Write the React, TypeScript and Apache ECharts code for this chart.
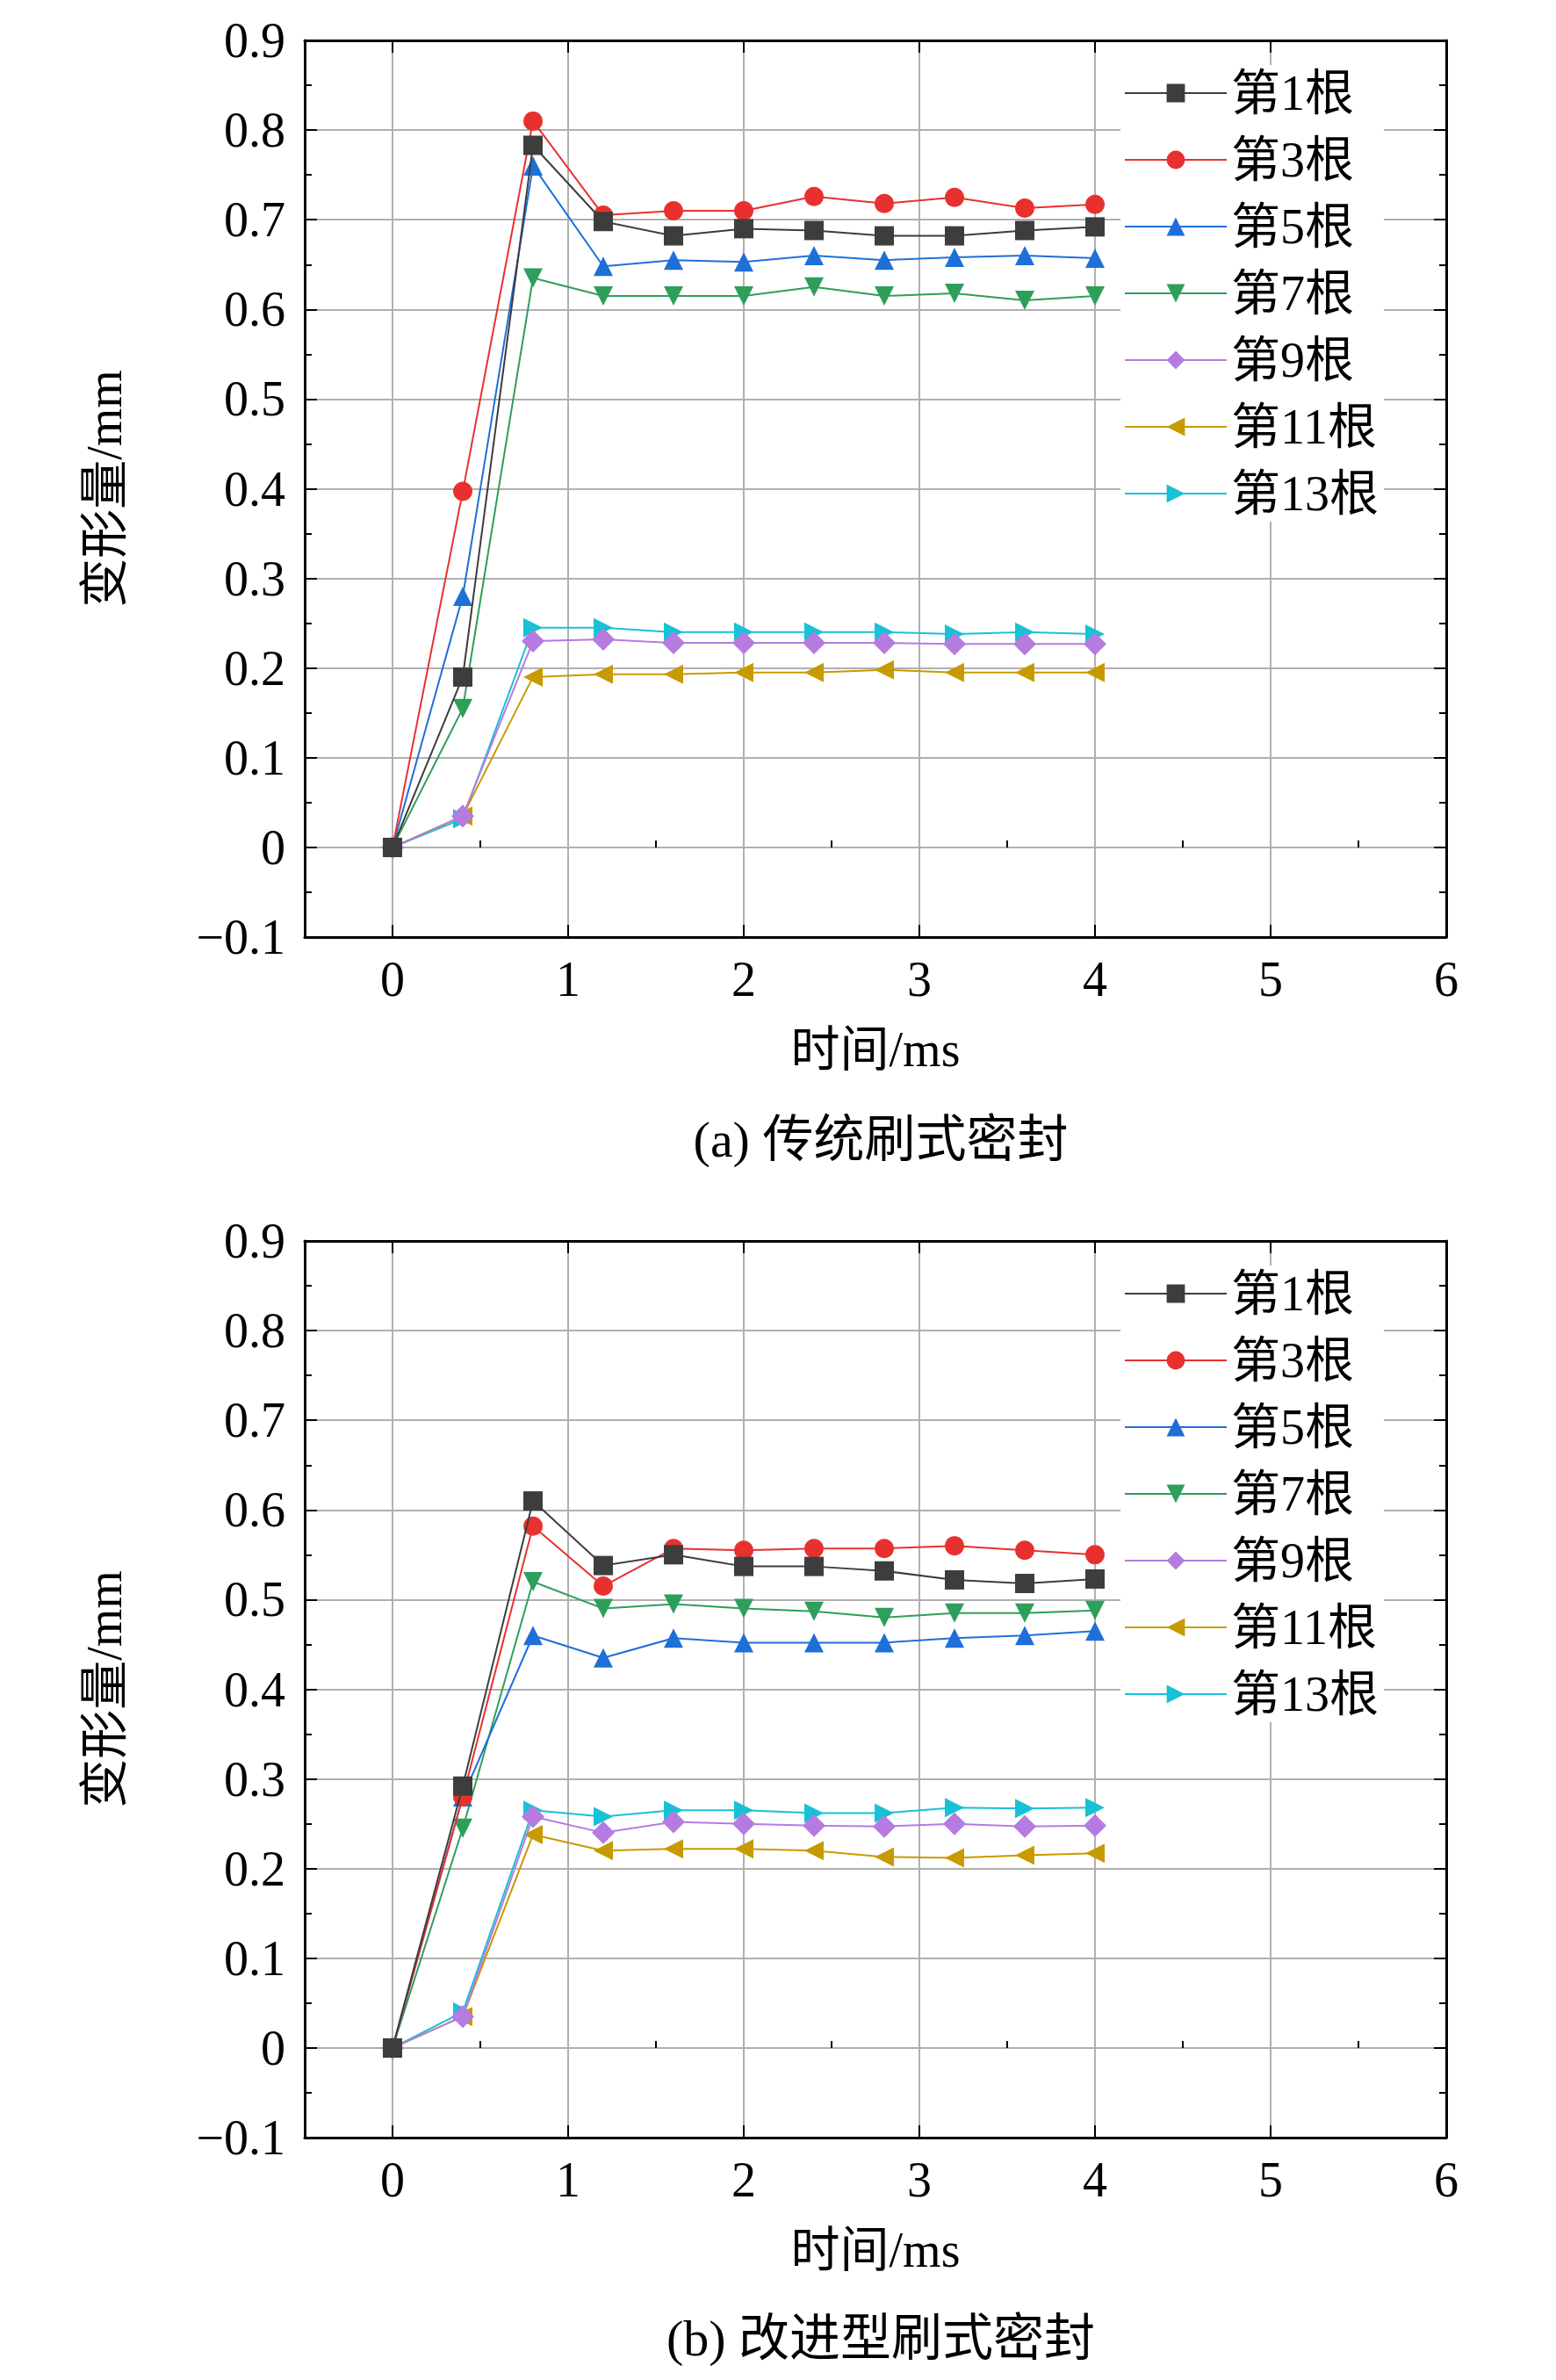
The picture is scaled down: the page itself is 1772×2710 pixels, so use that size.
import React, { useEffect, useRef } from "react";
import * as echarts from "echarts";

const times = [0, 0.4, 0.8, 1.2, 1.6, 2.0, 2.4, 2.8, 3.2, 3.6, 4.0];
const seriesNames = ["第1根", "第3根", "第5根", "第7根", "第9根", "第11根", "第13根"];
const colors = ["#3d3d3d", "#e8312f", "#1f6fd8", "#2e9e5b", "#b57be0", "#c79a00", "#17c2d6"];
const symbols = [
  "rect",
  "circle",
  "triangle",
  "path://M0,0 L10,0 L5,9 Z",
  "diamond",
  "path://M0,5 L9,0 L9,10 Z",
  "path://M0,0 L9,5 L0,10 Z",
];
const xTicks = [0, 1, 2, 3, 4, 5, 6];
const xMinor = [-0.5, 0.5, 1.5, 2.5, 3.5, 4.5, 5.5];

const dataA = [
  [0, 0.19, 0.783, 0.698, 0.682, 0.69, 0.688, 0.682, 0.682, 0.688, 0.692],
  [0, 0.397, 0.81, 0.705, 0.71, 0.71, 0.726, 0.718, 0.725, 0.713, 0.717],
  [0, 0.28, 0.76, 0.648, 0.655, 0.653, 0.66, 0.655, 0.658, 0.66, 0.657],
  [0, 0.155, 0.635, 0.615, 0.615, 0.615, 0.625, 0.615, 0.618, 0.61, 0.615],
  [0, 0.035, 0.23, 0.232, 0.228, 0.228, 0.228, 0.228, 0.227, 0.227, 0.227],
  [0, 0.035, 0.19, 0.193, 0.193, 0.195, 0.195, 0.198, 0.195, 0.195, 0.195],
  [0, 0.032, 0.245, 0.245, 0.24, 0.24, 0.24, 0.24, 0.238, 0.24, 0.238],
];
const dataB = [
  [0, 0.292, 0.61, 0.538, 0.55, 0.537, 0.537, 0.532, 0.522, 0.518, 0.523],
  [0, 0.28, 0.582, 0.515, 0.557, 0.555, 0.557, 0.557, 0.56, 0.555, 0.55],
  [0, 0.28, 0.46, 0.435, 0.457, 0.452, 0.452, 0.452, 0.457, 0.46, 0.465],
  [0, 0.245, 0.52, 0.49, 0.495, 0.49, 0.487, 0.48, 0.485, 0.485, 0.488],
  [0, 0.035, 0.258, 0.24, 0.252, 0.25, 0.248, 0.247, 0.25, 0.247, 0.248],
  [0, 0.035, 0.238, 0.22, 0.222, 0.222, 0.22, 0.213, 0.212, 0.215, 0.217],
  [0, 0.04, 0.265, 0.258, 0.265, 0.265, 0.262, 0.262, 0.268, 0.267, 0.268],
];

const FONT = "'Liberation Serif', 'Noto Sans CJK SC', serif";
const GRID_TOPS = [38, 1405];
const GRID_H = 1021;

const App: React.FC = () => {
  const ref = useRef<HTMLDivElement>(null);

  useEffect(() => {
    if (!ref.current) return;
    const chart = echarts.init(ref.current, undefined, { renderer: "svg" });

    const grids = GRID_TOPS.map((top) => ({ left: 339, width: 1300, top, height: GRID_H }));

    const xAxes: any[] = [];
    const yAxes: any[] = [];
    [0, 1].forEach((i) => {
      xAxes.push({
        type: "value", gridIndex: i, min: -0.5, max: 6, position: "bottom",
        name: "时间/ms", nameLocation: "middle", nameGap: 100,
        nameTextStyle: { fontFamily: FONT, fontSize: 56, color: "#000" },
        axisLine: { onZero: false, lineStyle: { color: "#000", width: 3 } },
        axisTick: { inside: true, length: 14, customValues: xTicks, lineStyle: { color: "#000", width: 2 } },
        axisLabel: { customValues: xTicks, fontFamily: FONT, fontSize: 56, color: "#000", margin: 20 },
        splitLine: { show: true, lineStyle: { color: "#b0b0b0", width: 2 } },
      });
      xAxes.push({
        type: "value", gridIndex: i, min: -0.5, max: 6, position: "top",
        axisLine: { onZero: false, lineStyle: { color: "#000", width: 3 } },
        axisTick: { inside: true, length: 14, customValues: xTicks, lineStyle: { color: "#000", width: 2 } },
        axisLabel: { show: false },
        splitLine: { show: false },
      });
      // minor ticks at half steps on x
      xAxes.push({
        type: "value", gridIndex: i, min: -0.5, max: 6, position: "bottom",
        axisLine: { show: false },
        axisTick: { inside: true, length: 8, customValues: xMinor, lineStyle: { color: "#000", width: 2 } },
        axisLabel: { show: false },
        splitLine: { show: false },
      });
      yAxes.push({
        type: "value", gridIndex: i, min: -0.1, max: 0.9, interval: 0.1, position: "left",
        name: "变形量/mm", nameLocation: "middle", nameGap: 200,
        nameTextStyle: { fontFamily: FONT, fontSize: 56, color: "#000" },
        axisLine: { onZero: false, lineStyle: { color: "#000", width: 3 } },
        axisTick: { inside: true, length: 14, lineStyle: { color: "#000", width: 2 } },
        minorTick: { show: true, splitNumber: 2, length: 8, lineStyle: { color: "#000", width: 2 } },
        axisLabel: {
          fontFamily: FONT, fontSize: 56, color: "#000", margin: 22,
          formatter: (v: number) => {
            const r = Math.round(v * 10) / 10;
            return r === 0 ? "0" : r < 0 ? "\u2212" + Math.abs(r).toFixed(1) : r.toFixed(1);
          },
        },
        splitLine: { show: true, lineStyle: { color: "#b0b0b0", width: 2 } },
      });
      yAxes.push({
        type: "value", gridIndex: i, min: -0.1, max: 0.9, interval: 0.1, position: "right",
        axisLine: { onZero: false, lineStyle: { color: "#000", width: 3 } },
        axisTick: { inside: true, length: 14, lineStyle: { color: "#000", width: 2 } },
        minorTick: { show: true, splitNumber: 2, length: 8, lineStyle: { color: "#000", width: 2 } },
        axisLabel: { show: false },
        splitLine: { show: false },
      });
    });

    const series: any[] = [];
    [dataA, dataB].forEach((set, gi) => {
      set.forEach((vals, si) => {
        series.push({
          name: seriesNames[si], type: "line",
          xAxisIndex: gi * 3, yAxisIndex: gi * 2,
          symbol: symbols[si], symbolSize: si === 4 ? 26 : 22,
          showAllSymbol: true,
          itemStyle: { color: colors[si] },
          lineStyle: { color: colors[si], width: 2 },
          data: times.map((t, k) => [t, vals[k]]),
          z: 10 - si,
        });
      });
    });

    const legends = GRID_TOPS.map((top) => ({
      orient: "vertical", left: 1268, top: top + 28,
      itemWidth: 116, itemHeight: 26, itemGap: 20,
      backgroundColor: "#fff", padding: [4, 6, 4, 4],
      textStyle: { fontFamily: FONT, fontSize: 56, color: "#000" },
      data: seriesNames,
    }));

    chart.setOption({
      animation: false,
      backgroundColor: "#fff",
      grid: grids,
      xAxis: xAxes,
      yAxis: yAxes,
      legend: legends,
      series,
      title: [
        { text: "(a) 传统刷式密封", left: 990, top: 1255, textAlign: "center",
          textStyle: { fontFamily: FONT, fontSize: 58, fontWeight: "normal", color: "#000" } },
        { text: "(b) 改进型刷式密封", left: 990, top: 2620, textAlign: "center",
          textStyle: { fontFamily: FONT, fontSize: 58, fontWeight: "normal", color: "#000" } },
      ],
    });

    return () => chart.dispose();
  }, []);

  return <div ref={ref} style={{ width: 1772, height: 2710 }} />;
};

export default App;
